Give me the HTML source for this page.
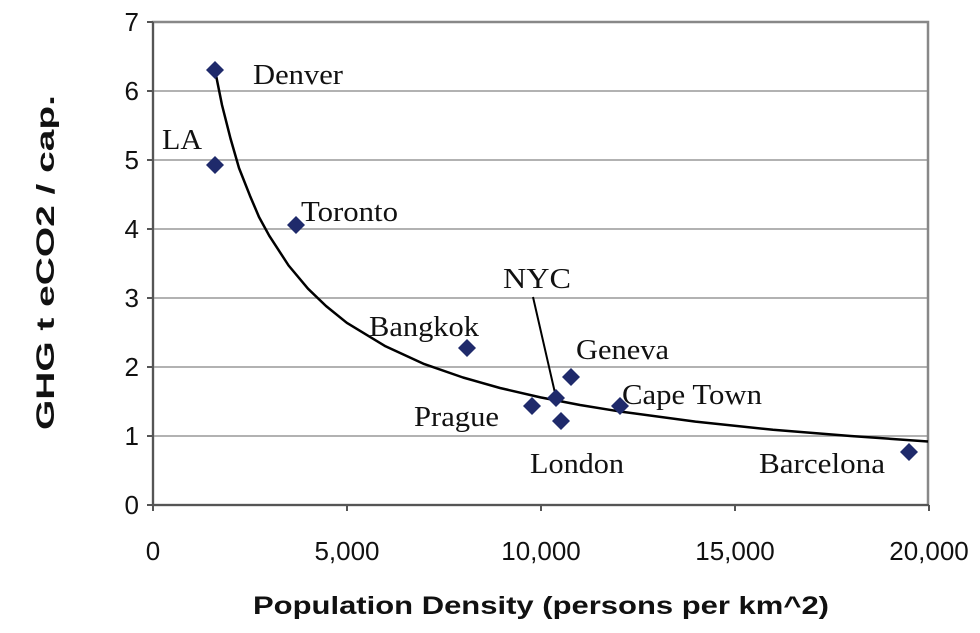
<!DOCTYPE html>
<html><head><meta charset="utf-8"></head>
<body style="margin:0;padding:0;background:#fff;">
<svg width="980" height="633" viewBox="0 0 980 633" xmlns="http://www.w3.org/2000/svg" style="display:block">
<rect x="0" y="0" width="980" height="633" fill="#fff"/>
<g stroke="#999" stroke-width="1.5">
<line x1="153" y1="91" x2="928" y2="91"/><line x1="153" y1="160" x2="928" y2="160"/>
<line x1="153" y1="229" x2="928" y2="229"/><line x1="153" y1="298" x2="928" y2="298"/>
<line x1="153" y1="367" x2="928" y2="367"/><line x1="153" y1="436" x2="928" y2="436"/>
</g>
<rect x="153" y="22" width="775" height="483" fill="none" stroke="#888" stroke-width="2.5"/>
<g stroke="#555" stroke-width="2">
<line x1="153" y1="22" x2="153" y2="506"/><line x1="152" y1="505" x2="929" y2="505"/>
<line x1="147" y1="22" x2="153" y2="22"/><line x1="147" y1="91" x2="153" y2="91"/><line x1="147" y1="160" x2="153" y2="160"/><line x1="147" y1="229" x2="153" y2="229"/><line x1="147" y1="298" x2="153" y2="298"/><line x1="147" y1="367" x2="153" y2="367"/><line x1="147" y1="436" x2="153" y2="436"/><line x1="147" y1="505" x2="153" y2="505"/>
<line x1="153" y1="505" x2="153" y2="511"/><line x1="347" y1="505" x2="347" y2="511"/><line x1="541" y1="505" x2="541" y2="511"/><line x1="735" y1="505" x2="735" y2="511"/><line x1="929" y1="505" x2="929" y2="511"/>
</g>
<g font-family="Liberation Sans, Arial, sans-serif" font-size="26" fill="#111" text-anchor="end">
<text x="139" y="31">7</text><text x="139" y="100">6</text><text x="139" y="169">5</text><text x="139" y="238">4</text><text x="139" y="307">3</text><text x="139" y="376">2</text><text x="139" y="445">1</text><text x="139" y="514">0</text>
</g>
<g font-family="Liberation Sans, Arial, sans-serif" font-size="26" fill="#111" text-anchor="middle">
<text x="153" y="560">0</text><text x="347" y="560">5,000</text><text x="541" y="560">10,000</text><text x="735" y="560">15,000</text><text x="929" y="560">20,000</text>
</g>
<text font-family="Liberation Sans, Arial, sans-serif" font-size="25" font-weight="bold" fill="#111" x="253" y="614" textLength="576" lengthAdjust="spacingAndGlyphs">Population Density (persons per km^2)</text>
<text font-family="Liberation Sans, Arial, sans-serif" font-size="25" font-weight="bold" fill="#111" x="0" y="0" textLength="335" lengthAdjust="spacingAndGlyphs" transform="translate(54,430) rotate(-90)">GHG t eCO2 / cap.</text>
<polyline fill="none" stroke="#000" stroke-width="2.5" stroke-linejoin="round" points="215,70.3 222,105 230.5,138.5 239,168 249.9,195.6 259,217 269.3,235.8 288.6,265.5 308,288.7 326,306 346.8,322.8 385.5,346.3 424.3,364.1 463,377.5 500,388 540.5,397.4 580,405 618,411.2 695.5,421.6 773,429.8 850.5,436 928,441.5"/>
<line x1="533" y1="297" x2="555" y2="393" stroke="#000" stroke-width="2"/>
<g fill="#1f2a6b">
<polygon points="215,61 224,70 215,79 206,70"/>
<polygon points="215,156 224,165 215,174 206,165"/>
<polygon points="296,216 305,225 296,234 287,225"/>
<polygon points="467,339 476,348 467,357 458,348"/>
<polygon points="532,397 541,406 532,415 523,406"/>
<polygon points="556,389 565,398 556,407 547,398"/>
<polygon points="561,412 570,421 561,430 552,421"/>
<polygon points="571,368 580,377 571,386 562,377"/>
<polygon points="620,397 629,406 620,415 611,406"/>
<polygon points="909,443 918,452 909,461 900,452"/>
</g>
<g font-family="Liberation Serif, Times New Roman, serif" font-size="28" fill="#111" lengthAdjust="spacingAndGlyphs">
<text x="253" y="84" textLength="90" lengthAdjust="spacingAndGlyphs">Denver</text>
<text x="162" y="149" textLength="40" lengthAdjust="spacingAndGlyphs">LA</text>
<text x="301" y="221" textLength="97" lengthAdjust="spacingAndGlyphs">Toronto</text>
<text x="503" y="288" textLength="68" lengthAdjust="spacingAndGlyphs">NYC</text>
<text x="369" y="336" textLength="110" lengthAdjust="spacingAndGlyphs">Bangkok</text>
<text x="576" y="359" textLength="93" lengthAdjust="spacingAndGlyphs">Geneva</text>
<text x="622" y="404" textLength="140" lengthAdjust="spacingAndGlyphs">Cape Town</text>
<text x="414" y="426" textLength="85" lengthAdjust="spacingAndGlyphs">Prague</text>
<text x="530" y="473" textLength="94" lengthAdjust="spacingAndGlyphs">London</text>
<text x="759" y="473" textLength="126" lengthAdjust="spacingAndGlyphs">Barcelona</text>
</g>
</svg>
</body></html>
